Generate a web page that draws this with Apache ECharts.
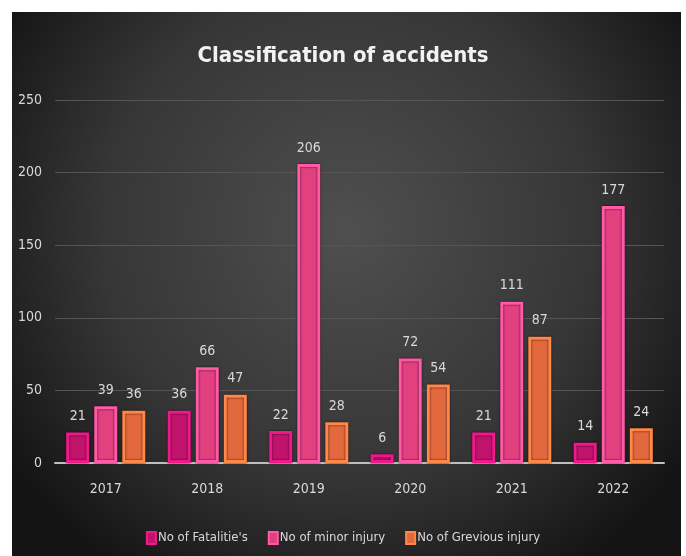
<!DOCTYPE html>
<html>
<head>
<meta charset="utf-8">
<script src="https://cdn.jsdelivr.net/npm/echarts@6/dist/echarts.min.js"></script>
<style>
  html, body { margin: 0; padding: 0; background: #fff; }
  #chart { width: 686px; height: 556px; }
</style>
</head>
<body>
<div id="chart"></div>
<script>
const years = ['2017', '2018', '2019', '2020', '2021', '2022'];
const fatalities = [21, 36, 22, 6, 21, 14];
const minorInjury = [39, 66, 206, 72, 111, 177];
const grievousInjury = [36, 47, 28, 54, 87, 24];
const yTicks = [0, 50, 100, 150, 200, 250];

const narrow = "'Liberation Sans Narrow', 'DejaVu Sans Condensed', 'Open Sans', sans-serif";

const chart = echarts.init(document.getElementById('chart'), null, { renderer: 'canvas' });

const labelStyle = {
    show: true,
    position: 'top',
    distance: 9,
    color: '#d9d9d9',
    fontSize: 14,
    fontFamily: narrow
};

const makeSeries = (name, data, edge, inner) => ({
    name: name,
    type: 'bar',
    data: data,
    barWidth: 23,
    barGap: '22%',
    itemStyle: {
        color: inner,
        borderColor: edge,
        borderWidth: 3,
        shadowColor: 'rgba(20,0,10,0.9)',
        shadowBlur: 2
    },
    label: labelStyle
});

chart.setOption({
    animation: false,
    graphic: [{
        type: 'rect',
        z: -10,
        silent: true,
        shape: { x: 12, y: 12, width: 669, height: 544 },
        style: {
            fill: {
                type: 'radial', x: 0.5, y: 0.4, r: 0.75,
                colorStops: [
                    { offset: 0, color: '#4f4f4f' },
                    { offset: 0.6, color: '#363636' },
                    { offset: 1, color: '#141414' }
                ]
            }
        }
    }],
    title: {
        text: 'Classification of accidents',
        left: 'center',
        top: 40,
        textStyle: {
            color: '#f2f2f2',
            fontSize: 22,
            fontWeight: 'bold',
            fontFamily: narrow
        }
    },
    legend: {
        bottom: 6,
        left: 'center',
        itemWidth: 9,
        itemHeight: 12,
        itemGap: 20,
        icon: 'rect',
        textStyle: { color: '#d9d9d9', fontSize: 13, fontFamily: narrow, padding: [0, 0, 0, -3] },
        data: ["No of Fatalitie's", 'No of minor injury', 'No of Grevious injury']
    },
    grid: { left: 55, right: 22, top: 100, bottom: 93 },
    xAxis: {
        type: 'category',
        data: years,
        axisLine: { lineStyle: { color: '#bfbfbf', width: 2 } },
        axisTick: { show: false },
        axisLabel: { color: '#d9d9d9', fontSize: 14, margin: 19, fontFamily: narrow }
    },
    yAxis: {
        type: 'value',
        min: yTicks[0],
        max: yTicks[yTicks.length - 1],
        interval: 50,
        axisLine: { show: false },
        axisTick: { show: false },
        axisLabel: { color: '#d9d9d9', fontSize: 14, margin: 13, fontFamily: narrow },
        splitLine: { lineStyle: { color: '#555555', width: 1 } }
    },
    series: [
        makeSeries("No of Fatalitie's", fatalities, '#f0188a', '#c0146c'),
        makeSeries('No of minor injury', minorInjury, '#ff5aa8', '#e2407f'),
        makeSeries('No of Grevious injury', grievousInjury, '#ff8848', '#e2683e')
    ]
});
</script>
</body>
</html>
